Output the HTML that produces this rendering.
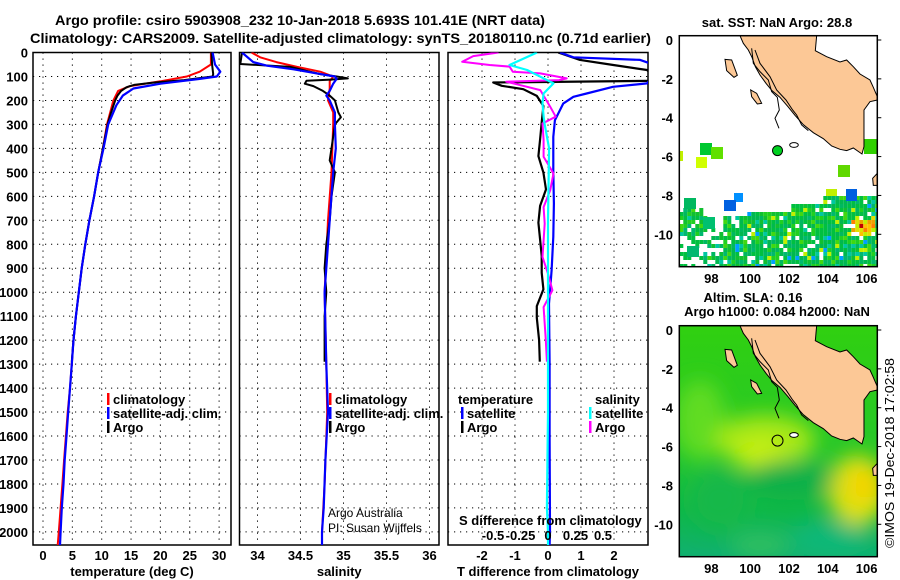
<!DOCTYPE html>
<html><head><meta charset="utf-8"><style>
html,body{margin:0;padding:0;background:#fff;}
svg{display:block;font-family:"Liberation Sans",Arial,sans-serif;}
.tk{font-size:13px;font-weight:bold;}
.lg{font-size:13px;font-weight:bold;}
</style></head><body>
<svg id="fig" width="900" height="580" viewBox="0 0 900 580" xmlns="http://www.w3.org/2000/svg">
<g id="titles">
<text x="55" y="25" font-size="14" font-weight="bold" textLength="490" lengthAdjust="spacingAndGlyphs">Argo profile: csiro 5903908_232 10-Jan-2018 5.693S 101.41E (NRT data)</text>
<text x="30" y="43" font-size="14" font-weight="bold" textLength="621" lengthAdjust="spacingAndGlyphs">Climatology: CARS2009. Satellite-adjusted climatology: synTS_20180110.nc (0.71d earlier)</text>
</g>
<g id="p1"></g>
<g id="p2"></g>
<g id="p3"></g>
<g id="m1"></g>
<g id="m2"></g>
<text x="0" y="0" font-size="13" transform="translate(894,548) rotate(-90)" textLength="190" lengthAdjust="spacingAndGlyphs">©IMOS 19-Dec-2018 17:02:58</text>
</svg>
<script>
// ---------- data ----------
const depthTicks=[0,100,200,300,400,500,600,700,800,900,1000,1100,1200,1300,1400,1500,1600,1700,1800,1900,2000];
const tempTicks=[0,5,10,15,20,25,30];
const salTicks=[34,34.5,35,35.5,36];
const salTickLabels=["34","34.5","35","35.5","36"];
const dTTicks=[-2,-1,0,1,2];
const dSTicks=[-0.5,-0.25,0,0.25,0.5];
const dSTickLabels=["-0.5","-0.25","0","0.25","0.5"];

const argoDepth=[0,50,90,100,115,125,135,145,160,180,200,250,300,400,500,600,700,800,900,1000,1100,1200,1290];
const argoTemp=[28.7,28.8,29.0,28.9,24,19,15.5,14.2,13.3,12.7,12.3,11.6,11.0,10.2,9.4,8.7,7.9,7.2,6.6,6.1,5.6,5.2,4.9];
const climDepth=[0,50,80,100,120,140,160,200,300,400,500,600,700,800,900,1000,1100,1200,1300,1400,1500,1600,1700,1800,1900,2000,2055];
const climTemp=[28.6,28.6,26.7,24.5,20,14.8,12.8,12.0,10.9,10.2,9.4,8.7,7.9,7.2,6.6,6.1,5.6,5.2,4.9,4.6,4.2,3.9,3.6,3.3,3.0,2.7,2.5];
const satDepth=[0,50,80,100,110,130,150,180,220,300,400,500,600,700,800,900,1000,1100,1200,1300,1400,1500,1600,1700,1800,1900,2000,2055];
const satTemp=[28.9,29.3,30.2,29.6,26.7,20,15.4,13.6,12.5,11.1,10.3,9.4,8.7,7.9,7.2,6.6,6.1,5.6,5.2,4.9,4.6,4.3,4.0,3.7,3.5,3.2,3.0,2.9];

const argoSalDepth=[0,48,60,80,90,100,108,113,118,130,140,160,180,200,250,270,300,400,450,500,600,700,800,900,1000,1100,1200,1290];
const argoSal=[33.82,33.8,34.38,34.61,34.73,34.92,35.05,34.85,34.57,34.55,34.65,34.76,34.84,34.9,34.94,34.97,34.9,34.86,34.84,34.9,34.86,34.84,34.8,34.78,34.8,34.78,34.78,34.78];
const climSal=[33.93,34.03,34.22,34.46,34.73,34.88,34.84,34.84,34.82,34.88,34.88,34.86,34.82,34.78,34.8,34.81,34.78,34.75,34.75];
const climSalDepth=[0,20,40,60,80,100,120,150,200,250,300,500,700,1000,1300,1500,1800,2000,2055];
const satSalDepth=[0,40,55,70,90,100,110,130,160,180,200,250,300,400,500,700,1000,1300,1500,1700,1900,2000,2055];
const satSal=[33.82,33.95,34.11,34.42,34.73,34.9,34.92,34.88,34.84,34.8,34.84,34.9,34.9,34.91,34.88,34.84,34.78,34.8,34.82,34.79,34.77,34.75,34.75];

const satDTDepth=[0,20,31,60,129,143,171,185,213,283,352,491,630,769,909,1048,1300,1600,2000,2055];
const satDT=[0.36,0.77,2.79,3.4,3.0,1.97,1.17,0.77,0.46,0.21,0.16,0.16,0.18,0.16,0.11,0.03,0.05,0.05,0.06,0.05];
const argoDTDepth=[0,31,52,73,110,118,125,139,153,181,223,292,362,432,501,571,640,710,780,849,919,988,1058,1107,1200,1290];
const argoDT=[0.31,0.97,1.98,3.0,3.3,3.2,-1.66,-1.4,-0.75,-0.34,-0.14,-0.19,-0.24,-0.29,-0.14,-0.06,-0.24,-0.29,-0.24,-0.19,-0.19,-0.14,-0.34,-0.34,-0.27,-0.25];
const argoDSDepth=[0,15,39,52,59,80,87,108,115,122,143,157,226,268,296,365,435,505,575,645,714,784,853,923,992,1062,1200,1290];
const argoDS=[-0.45,-0.68,-0.78,-0.53,-0.35,-0.32,-0.07,0.17,0.1,-0.38,-0.19,-0.07,0.02,0.07,-0.05,-0.04,-0.04,0.05,0.02,-0.04,-0.03,-0.04,-0.05,0.0,0.04,-0.04,-0.02,-0.01];
const satDSDepth=[0,52,73,101,129,171,212,268,300,400,700,1000,1500,1900,2000,2055];
const satDS=[-0.1,-0.35,-0.19,-0.07,0.05,-0.04,-0.05,-0.04,-0.03,0.01,0.0,0.0,0.0,-0.01,0.0,0.0];

// ---------- helpers ----------
const NS="http://www.w3.org/2000/svg";
function mk(tag,at,parent){const e=document.createElementNS(NS,tag);for(const k in at)e.setAttribute(k,at[k]);parent.appendChild(e);return e;}
const TOP=52.5,BOT=545;
const yD=d=>TOP+d*0.2397;

function panel(g,L,R,xf,xt,labs,xtitle){
  const fr=mk('rect',{x:L,y:TOP,width:R-L,height:BOT-TOP,fill:'none',stroke:'#000','stroke-width':1.5},g);
  
  
  depthTicks.forEach(d=>{const y=yD(d);
    const l=mk('line',{x1:L,x2:R,y1:y,y2:y,stroke:'#000','stroke-width':1,'stroke-dasharray':'1.2,4.8'},g);
    
    });
  xt.forEach((v,i)=>{const x=xf(v);
    const l=mk('line',{x1:x,x2:x,y1:TOP,y2:BOT,stroke:'#000','stroke-width':1,'stroke-dasharray':'1.2,4.8'},g);
    
    
    const t=mk('text',{x:x,y:560,'text-anchor':'middle',class:'tk'},g);t.textContent=labs[i];
    
    });
  const tt=mk('text',{x:(L+R)/2,y:576,'text-anchor':'middle',class:'tk'},g);tt.textContent=xtitle;
  
  
}
function line(g,xs,ds,xf,col,w,name,L,R){
  const pts=xs.map((v,i)=>xf(v).toFixed(1)+','+yD(ds[i]).toFixed(1)).join(' ');
  const cid='c'+Math.round(L);
  if(!document.getElementById(cid)){const cp=mk('clipPath',{id:cid},document.getElementById('fig'));mk('rect',{x:L,y:TOP,width:R-L,height:BOT-TOP},cp);}
  const p=mk('polyline',{points:pts,fill:'none',stroke:col,'stroke-width':w,'clip-path':'url(#'+cid+')','stroke-linejoin':'round'},g);
  
  
}
function legend(g,x,y,col,label,name){
  const r=mk('rect',{x:x,y:y-11,width:2.5,height:12,fill:col},g);
  
  
  const t=mk('text',{x:x+6,y:y,class:'lg'},g);t.textContent=label;
  
  
}

const fig=document.getElementById('fig');
depthTicks.forEach(d=>{const t=mk('text',{x:28,y:yD(d)+5,'text-anchor':'end',class:'tk'},fig);t.textContent=d;
  
  });

// panel 1
const p1=document.getElementById('p1');
const xT=v=>43+5.87*v;
panel(p1,33,231,xT,tempTicks,tempTicks.map(String),'temperature (deg C)');
line(p1,climTemp,climDepth,xT,'#f00',2,'climatology-temperature-line',33,231);
line(p1,argoTemp,argoDepth,xT,'#000',2,'argo-temperature-line',33,231);
line(p1,satTemp,satDepth,xT,'#00f',2.2,'satellite-temperature-line',33,231);
legend(p1,107,404,'#f00','climatology','legend-climatology');
legend(p1,107,418,'#00f','satellite-adj. clim.','legend-satellite');
legend(p1,107,432,'#000','Argo','legend-argo');

// panel 2
const p2=document.getElementById('p2');
const xS=v=>257.5+86*(v-34);
panel(p2,239.5,439,xS,salTicks,salTickLabels,'salinity');
line(p2,climSal,climSalDepth,xS,'#f00',2,'climatology-salinity-line',239.5,439);
line(p2,argoSal,argoSalDepth,xS,'#000',2,'argo-salinity-line',239.5,439);
line(p2,satSal,satSalDepth,xS,'#00f',2.2,'satellite-salinity-line',239.5,439);
legend(p2,329,404,'#f00','climatology','legend-climatology');
legend(p2,329,418,'#00f','satellite-adj. clim.','legend-satellite');
legend(p2,329,432,'#000','Argo','legend-argo');
[['Argo Australia',517],['PI: Susan Wijffels',532]].forEach(a=>{const t=mk('text',{x:328,y:a[1],'font-size':12},p2);t.textContent=a[0];
  
  });

// panel 3
const p3=document.getElementById('p3');
const xDT=v=>548+33*v, xDS=v=>548+110*v;
panel(p3,448,648,xDT,dTTicks,dTTicks.map(String),'T difference from climatology');
line(p3,argoDT,argoDTDepth,xDT,'#000',2.2,'argo-temperature-diff-line',448,648);
line(p3,satDT,satDTDepth,xDT,'#00f',2.2,'satellite-temperature-diff-line',448,648);
line(p3,argoDS,argoDSDepth,xDS,'#f0f',2,'argo-salinity-diff-line',448,648);
line(p3,satDS,satDSDepth,xDS,'#0ff',2.2,'satellite-salinity-diff-line',448,648);
[['temperature',458,404],['salinity',595,404]].forEach(a=>{const t=mk('text',{x:a[1],y:a[2],class:'lg'},p3);t.textContent=a[0];
  
  });
legend(p3,461,418,'#00f','satellite','legend-t-satellite');
legend(p3,461,432,'#000','Argo','legend-t-argo');
legend(p3,589,418,'#0ff','satellite','legend-s-satellite');
legend(p3,589,432,'#f0f','Argo','legend-s-argo');
{const t=mk('text',{x:459,y:525,class:'lg'},p3);t.textContent='S difference from climatology';
 
 }
dSTicks.forEach((v,i)=>{const t=mk('text',{x:xDS(v),y:540,'text-anchor':'middle',class:'tk'},p3);t.textContent=dSTickLabels[i];
  
  });

// ---------- maps ----------
const ML=679.3,MR=877.3,lonL=96.35,lonR=106.55;
const mx=lon=>ML+(lon-lonL)*(MR-ML)/(lonR-lonL);
const land="240,107 250,130 265,150 276,172 286,200 300,225 318,250 336,272 360,292 384,320 405,346 430,374 460,398 490,416 515,438 540,448 560,452 580,444 606,462 612,440 612,330 630,305 652,300 652,290 640,262 630,240 600,222 580,200 560,180 540,186 500,170 466,152 470,107";
const java="638,535 652,520 652,556 640,556";
const islands=["195,178 215,180 232,226 222,232 200,212","272,270 290,280 305,310 292,312 275,290"];
const contour="275,145 280,190 300,215 325,240 335,275 352,292 358,330 345,355 357,385";
const contour2="285,150 300,190 330,230 350,270 378,300 398,330 410,345 425,375 445,392";
function drawMap(gid,oy){
  const g=document.getElementById(gid);
  const top=oy+35.7,bot=oy+266.7;
  const cid='clip'+gid;
  const cp=mk('clipPath',{id:cid},fig);mk('rect',{x:ML,y:top,width:MR-ML,height:bot-top},cp);
  const inner=mk('g',{'clip-path':'url(#'+cid+')'},g);
  return {g,inner,top,bot};
}
function finishMap(m,oy){
  const geo=mk('g',{transform:'translate(660,'+oy+') scale(0.3333)'},m.inner);
  
  
  const l=mk('polygon',{points:land,fill:'#fcc896',stroke:'#000','stroke-width':3},geo);
  
  
  mk('polygon',{points:java,fill:'#fcc896',stroke:'#000','stroke-width':3},geo);
  islands.forEach(s=>{const i=mk('polygon',{points:s,fill:'#fcc896',stroke:'#000','stroke-width':3},geo);
    
    });
  mk('polyline',{points:contour,fill:'none',stroke:'#000','stroke-width':3},geo);
  mk('polyline',{points:contour2,fill:'none',stroke:'#000','stroke-width':3},geo);
  mk('ellipse',{cx:402,cy:435,rx:13,ry:7,fill:'#fff',stroke:'#000','stroke-width':3},geo);
  const fr=mk('rect',{x:ML,y:m.top,width:MR-ML,height:m.bot-m.top,fill:'none',stroke:'#000','stroke-width':1.5},m.g);
  
  
  [0,-2,-4,-6,-8,-10].forEach(la=>{const yy=oy+40+(-la)*19.43;
    const t=mk('text',{x:673,y:yy+5,'text-anchor':'end',class:'tk'},m.g);t.textContent=la;
    
    
    mk('line',{x1:MR,x2:MR+4,y1:yy,y2:yy,stroke:'#000'},m.g);});
  [98,100,102,104,106].forEach(lo=>{const x=mx(lo);
    const t=mk('text',{x:x,y:oy+283,'text-anchor':'middle',class:'tk'},m.g);t.textContent=lo;
    
    });
}
// map 1 (SST)
const m1=drawMap('m1',0);
mk('rect',{x:ML,y:m1.top,width:MR-ML,height:m1.bot-m1.top,fill:'#fff'},m1.inner);
const pal=['#00c040','#00b850','#10c030','#00c040','#20d020','#00b860','#00c040','#40d810','#00b850','#00c040','#00c8a0','#00b870'];
function hash(i,j){let h=(i*73856093)^(j*19349663);h=(h^(h>>13))*1274126177;return Math.abs(h^(h>>16));}
const cells=mk('g',{},m1.inner);


for(let i=0;i<50;i++)for(let j=0;j<18;j++){
  const x=ML+i*4,y=196+j*4,h=hash(i,j);
  let ok;
  if(x<700) ok=(y>207&&y<236&&h%6!=0)||(y>=236&&h%3==0);
  else if(x<720) ok=(y>235&&h%3!=0)||(y>215&&y<235&&h%5==0);
  else if(x<745) ok=y>212&&h%6!=0;
  else if(x<790) ok=y>208&&h%9!=0;
  else ok=y>200-(x>820?6:0)&&h%13!=0;
  if(!ok)continue;
  let c=pal[h%pal.length];
  if(h%23==0)c='#00a0ff';
  if(h%31==0)c='#c0f000';
  if(x>848&&x<872&&y>214&&y<234){c=['#f0a000','#ffc000','#e0e000','#ff8000','#c0f000','#00c040'][h%6];if(h%9==0)c='#c00000';}
  mk('rect',{x:x,y:y,width:4,height:4,fill:c},cells);
}
[[700,143,12,12,'#00c830'],[711,147,12,12,'#60e000'],[696,157,11,11,'#d0ff00'],[679,151,4,10,'#c0f000'],[734,193,9,9,'#0090ff'],[724,200,12,11,'#0060e0'],[846,189,11,12,'#0060e0'],[826,189,11,7,'#c0f000'],[838,165,12,12,'#60d800'],[864,139,13,15,'#30d000'],[684,198,12,11,'#00b860'],[703,217,12,12,'#00c070'],[687,246,12,11,'#00b870']].forEach(r=>{
  const e=mk('rect',{x:r[0],y:r[1],width:r[2],height:r[3],fill:r[4]},m1.inner);
  
  });
finishMap(m1,0);
{const c=mk('circle',{cx:mx(101.41),cy:40+5.693*19.43,r:5,fill:'#00d020',stroke:'#000','stroke-width':1},m1.g);
 
 }
{const t=mk('text',{x:777,y:27,'text-anchor':'middle',class:'tk'},m1.g);t.textContent='sat. SST: NaN Argo: 28.8';
 
 }

// map 2 (SLA)
const m2=drawMap('m2',290);
const defs=mk('defs',{},fig);
const lg=mk('linearGradient',{id:'slabg',x1:0,y1:0,x2:0,y2:1},defs);
mk('stop',{offset:'0','stop-color':'#30d010'},lg);mk('stop',{offset:'0.5','stop-color':'#28c828'},lg);mk('stop',{offset:'0.8','stop-color':'#10b848'},lg);mk('stop',{offset:'1','stop-color':'#10b070'},lg);
const fl=mk('filter',{id:'blur',x:'-50%',y:'-50%',width:'200%',height:'200%'},defs);mk('feGaussianBlur',{stdDeviation:10},fl);
mk('rect',{x:ML,y:m2.top,width:MR-ML,height:m2.bot-m2.top,fill:'url(#slabg)'},m2.inner);
const blobs=mk('g',{filter:'url(#blur)'},m2.inner);


[[700,420,25,40,'#60dc20'],[765,440,50,25,'#a8e818'],[760,455,25,15,'#c8f010'],[858,490,30,35,'#e0e010'],[865,485,14,14,'#f8d000'],[830,540,40,18,'#10b878'],[790,480,45,20,'#10b048'],[720,500,30,30,'#18b848'],[760,545,30,12,'#30c060']].forEach(b=>mk('ellipse',{cx:b[0],cy:b[1],rx:b[2],ry:b[3],fill:b[4]},blobs));
finishMap(m2,290);
{const c=mk('circle',{cx:mx(101.41),cy:330+5.693*19.43,r:5.5,fill:'none',stroke:'#000','stroke-width':1},m2.g);
 
 }
{const t=mk('text',{x:753,y:302,'text-anchor':'middle',class:'tk'},m2.g);t.textContent='Altim. SLA: 0.16';
 
 
 const t2=mk('text',{x:777,y:316,'text-anchor':'middle',class:'tk'},m2.g);t2.textContent='Argo h1000: 0.084 h2000: NaN';
 
 }
</script>
</body></html>
